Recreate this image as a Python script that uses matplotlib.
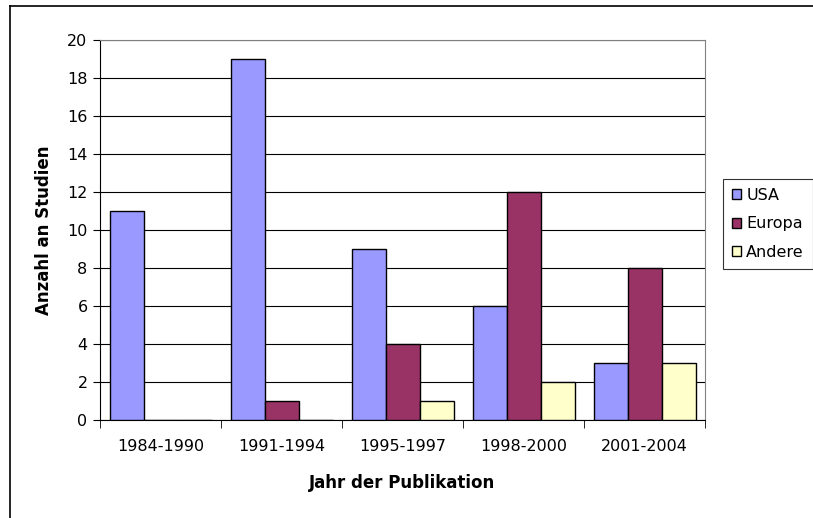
import matplotlib
matplotlib.use("Agg")
import matplotlib.pyplot as plt
import numpy as np
from matplotlib.lines import Line2D

plt.rcParams['font.family'] = ['DejaVu Sans']

categories = ["1984-1990", "1991-1994", "1995-1997", "1998-2000", "2001-2004"]
series_names = ["USA", "Europa", "Andere"]
usa = [11, 19, 9, 6, 3]
europa = [0, 1, 4, 12, 8]
andere = [0, 0, 1, 2, 3]
colors = ["#9999FF", "#993366", "#FFFFCC"]

W, H = 813, 518
fig = plt.figure(figsize=(W / 100, H / 100), dpi=100)
left, right, top, bottom = 100, 705, 40, 420
ax = fig.add_axes([left / W, 1 - bottom / H, (right - left) / W, (bottom - top) / H])

# figure border
fig.add_artist(Line2D([9.5 / W, 9.5 / W], [0, 1 - 5.5 / H], transform=fig.transFigure, color='black', lw=1.2))
fig.add_artist(Line2D([9.5 / W, 1], [1 - 5.5 / H, 1 - 5.5 / H], transform=fig.transFigure, color='black', lw=1.2))

x = np.arange(len(categories))
bw = 34 / 121
vals = [usa, europa, andere]
for i, (name, v, c) in enumerate(zip(series_names, vals, colors)):
    ax.bar(x + (i - 1) * bw, v, width=bw, color=c, edgecolor='black', linewidth=1.0,
           label=name, zorder=3)

ax.set_xlim(-0.5, len(categories) - 0.5)
ax.set_ylim(0, 20)
ax.set_yticks(np.arange(0, 21, 2))
ax.yaxis.grid(True, color='black', linewidth=0.8, zorder=0)
ax.set_axisbelow(True)

ax.set_xticks(x)
ax.set_xticklabels(categories, fontsize=11.5)
ax.tick_params(axis='x', length=0, pad=14)
ax.set_xticks(np.arange(-0.5, len(categories)), minor=True)
ax.tick_params(axis='x', which='minor', length=6, direction='out', color='black')
ax.tick_params(axis='y', length=5, direction='out', labelsize=11.5, pad=4)

for s in ['top', 'right']:
    ax.spines[s].set_color('#808080')
for s in ['left', 'bottom']:
    ax.spines[s].set_color('black')

ax.set_xlabel("Jahr der Publikation", fontsize=12, fontweight='bold', labelpad=14)
ax.set_ylabel("Anzahl an Studien", fontsize=12, fontweight='bold', labelpad=10)

leg = ax.legend(loc='upper left', bbox_to_anchor=(723 / W, 1 - 179 / H), bbox_transform=fig.transFigure,
                frameon=True, fancybox=False, edgecolor='black', fontsize=11.5,
                handlelength=0.6, handleheight=0.6, handletextpad=0.3, labelspacing=0.85,
                borderpad=0.55, borderaxespad=0)
leg.get_frame().set_linewidth(0.8)

fig.savefig("out.png", dpi=100)
